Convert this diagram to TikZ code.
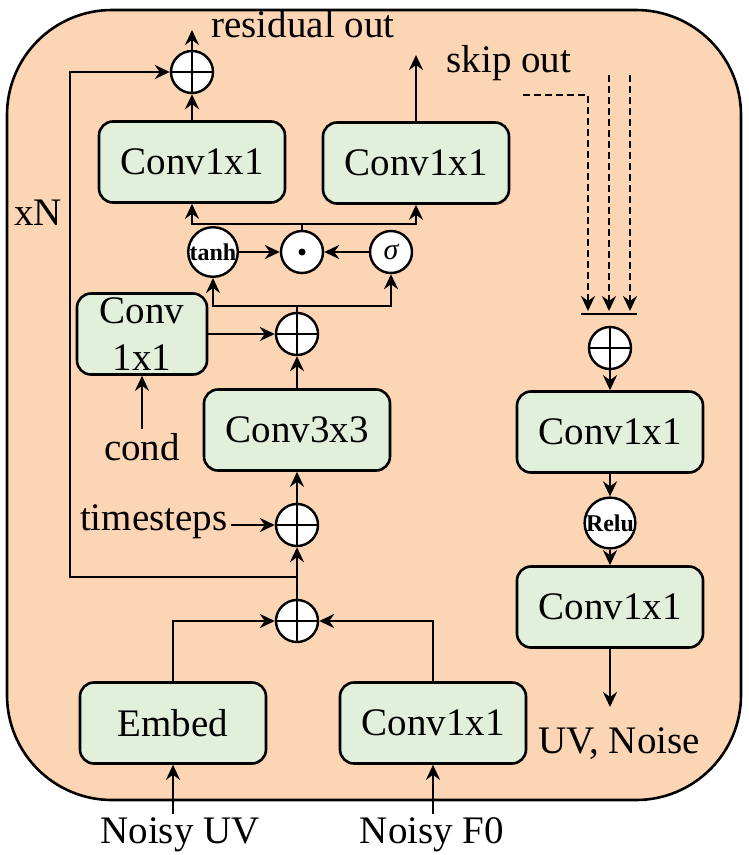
\documentclass[tikz,border=0pt]{standalone}
\usepackage{fontspec}
\setmainfont{Liberation Serif}
\usetikzlibrary{arrows.meta,calc,positioning}
\definecolor{blockbg}{RGB}{252,213,181}
\definecolor{convcol}{RGB}{226,239,218}

\begin{document}
\begin{tikzpicture}[x=1pt,y=-1pt,
  >={Stealth[length=15pt,width=14pt,inset=5pt]},
  every node/.style={font=\fontsize{39}{47}\selectfont},
  conv/.style={draw,line width=2.6pt,fill=convcol,rounded corners=14pt,minimum width=186pt,minimum height=81pt,inner sep=0pt,align=center},
  gate/.style={circle,draw,fill=white,line width=2.4pt,minimum size=42pt,inner sep=0pt},
  addop/.style={gate,path picture={\draw[black,line width=1.5pt] (path picture bounding box.north) -- (path picture bounding box.south) (path picture bounding box.west) -- (path picture bounding box.east);}},
  wire/.style={line width=2.6pt},
  skipwire/.style={line width=2.3pt,dash pattern=on 7pt off 4pt}
]
\useasboundingbox (0,0) rectangle (748,855);
% residual block background
\draw[line width=2.6pt,fill=blockbg,rounded corners=105pt] (7,10) rectangle (741,800);
% convolutions
\node[conv] (resconv) at (192,162) {Conv1x1};
\node[conv] (skipconv) at (416,163) {Conv1x1};
\node[conv,minimum width=130pt] (condconv) at (142,334) {Conv\\1x1};
\node[conv] (dilconv) at (297,430) {Conv3x3};
\node[conv] (embed) at (173,723) {Embed};
\node[conv] (fzconv) at (433,723) {Conv1x1};
\node[conv] (outconvA) at (610,432) {Conv1x1};
\node[conv] (outconvB) at (610,607) {Conv1x1};
% operators
\node[addop] (resadd) at (192,72) {};
\node[gate] (tanh) at (213,252) {\fontsize{24}{24}\selectfont\bfseries tanh};
\node[gate,path picture={\fill[black] (path picture bounding box.center) circle (3.5pt);}] (mult) at (302,252) {};
\node[gate] (sig) at (391,252) {\fontsize{30}{30}\selectfont\itshape σ};
\node[addop] (condadd) at (297,334) {};
\node[addop] (tadd) at (297,525) {};
\node[addop] (inadd) at (297,621) {};
\node[addop] (skipadd) at (610,348) {};
\node[gate] (relu) at (610,523) {\fontsize{24}{24}\selectfont\bfseries Relu};
% labels
\node[anchor=base] (resout) at (303,37) {residual out};
\node[anchor=base] (skipout) at (509,72) {skip out};
\node[anchor=base] (repeat) at (38,225) {xN};
\node[anchor=base] (cond) at (142,460) {cond};
\node[anchor=base east] (tsteps) at (231,530) {timesteps};
\node[anchor=base] (noisyuv) at (180,843) {Noisy UV};
\node[anchor=base] (noisyf0) at (432,843) {Noisy F0};
\node[anchor=base] (uvnoise) at (619,753) {UV, Noise};
% free ends
\coordinate (resend) at (192,30);
\coordinate (skipend) at (416,55);
\coordinate (uvend) at (610,707);
\coordinate (loopsplit) at (297,577);
\coordinate (loopcorner) at (70,577);
\coordinate (gatesplit) at (302,224);
\coordinate (condsplit) at (297,306);
\coordinate (skipinA) at (523,95);
\coordinate (skipinB) at (609,75);
\coordinate (skipinC) at (630,75);
\coordinate (barL) at (581,314);
\coordinate (barR) at (637,314);
% input stem
\draw[wire,->] (embed.south |- noisyuv.north) -- (embed.south);
\draw[wire,->] (fzconv.south |- noisyf0.north) -- (fzconv.south);
\draw[wire,->] (embed.north) |- (inadd.west);
\draw[wire,->] (fzconv.north) |- (inadd.east);
\draw[wire,->] (inadd.north) -- (tadd.south);
\draw[wire,->] (tsteps.east |- tadd.west) -- (tadd.west);
\draw[wire,->] (tadd.north) -- (dilconv.south);
\draw[wire,->] (dilconv.north) -- (condadd.south);
\draw[wire,->] (cond.north) -- (condconv.south);
\draw[wire,->] (condconv.east |- condadd.west) -- (condadd.west);
% gated activation
\draw[wire] (condadd.north) -- (condsplit);
\draw[wire,->] (condsplit) -| (tanh.south);
\draw[wire,->] (condsplit) -| (sig.south);
\draw[wire,->] (tanh.east) -- (mult.west);
\draw[wire,->] (sig.west) -- (mult.east);
\draw[wire] (mult.north) -- (gatesplit);
\draw[wire,->] (gatesplit) -| (resconv.south);
\draw[wire,->] (gatesplit) -| (skipconv.south);
% outputs and residual loop
\draw[wire,->] (resconv.north) -- (resadd.south);
\draw[wire,->] (resadd.north) -- (resend);
\draw[wire,->] (skipconv.north) -- (skipend);
\draw[wire,->] (loopsplit) -- (loopcorner) |- (resadd.west);
% skip connections sum
\draw[skipwire,->] (skipinA) -| ($(barL)!0.125!(barR)+(0,-3)$);
\draw[skipwire,->] (skipinB) -- (skipinB |- {$(barL)+(0,-3)$});
\draw[skipwire,->] (skipinC) -- (skipinC |- {$(barL)+(0,-3)$});
\draw[wire] (barL) -- (barR);
\draw[wire,->] (skipadd.south) -- (outconvA.north);
\draw[wire,->] (outconvA.south) -- (relu.north);
\draw[wire,->] (relu.south) -- (outconvB.north);
\draw[wire,->] (outconvB.south) -- (uvend);
\end{tikzpicture}
\end{document}
